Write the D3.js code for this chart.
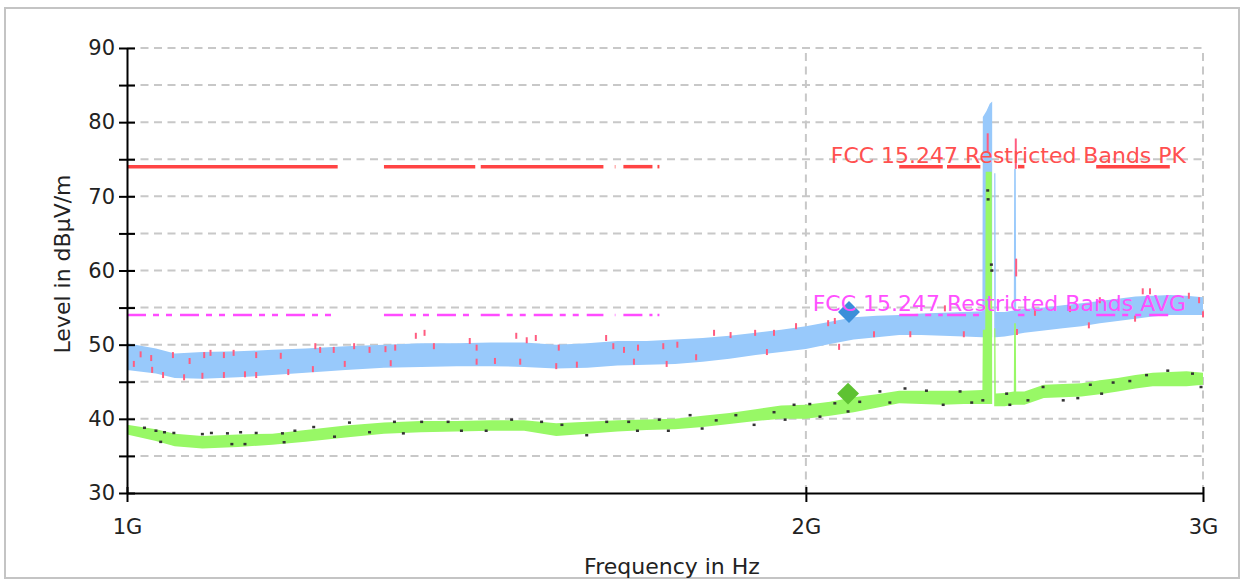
<!DOCTYPE html>
<html lang="en">
<head>
<meta charset="UTF-8">
<title>FCC 15.247 Restricted Bands scan 1-3 GHz</title>
<script src="https://d3js.org/d3.v7.min.js"></script>
<style>
  body { margin: 0; background: #fff; }
  svg text { font-family: "DejaVu Sans", sans-serif; }
  .grid line { stroke: #c8c8c8; stroke-width: 2; stroke-dasharray: 8,5.5; }
  .axis path, .axis line { stroke: #000; stroke-width: 2; }
  .axis text { font-size: 21px; fill: #222; }
</style>
</head>
<body>
<svg id="chart" width="1245" height="581"></svg>
<script>
// frequencies in GHz, levels in dBµV/m

// preview peak trace (light blue), drawn as its min/max envelope
const peakFreq = [1.00, 1.03, 1.05, 1.08, 1.12, 1.16, 1.20, 1.25, 1.30, 1.35, 1.40, 1.45, 1.50, 1.55,
  1.60, 1.65, 1.70, 1.75, 1.80, 1.85, 1.90, 1.95, 2.00, 2.05, 2.10, 2.15, 2.20, 2.25, 2.30, 2.35,
  2.395, 2.396, 2.405, 2.413, 2.419, 2.421, 2.424, 2.427, 2.428, 2.45, 2.473, 2.474, 2.478, 2.479,
  2.50, 2.55, 2.60, 2.65, 2.70, 2.75, 2.80, 2.85, 2.90, 2.95, 3.00];
const peakLow = [46.6, 46.1, 45.5, 45.4, 45.6, 45.9, 46.2, 46.6, 46.9, 47.0, 47.1, 47.1, 47.0, 46.8,
  46.9, 47.2, 47.3, 47.4, 47.7, 48.1, 48.6, 49.0, 49.4, 50.1, 50.7, 51.0, 51.3, 51.3, 51.2, 51.1,
  51.0, 51.0, 51.0, 51.0, 51.0, null, 51.0, 51.0, 51.0, 51.1, 51.3, 51.3, 51.3, 51.4,
  51.6, 51.9, 52.2, 52.5, 52.9, 53.2, 53.5, 53.8, 54.0, 54.0, 54.0];
const peakHigh = [50.2, 49.5, 48.8, 49.0, 49.1, 49.3, 49.5, 49.8, 50.0, 50.2, 50.2, 50.3, 50.3, 50.0,
  50.2, 50.5, 50.5, 50.7, 50.9, 51.2, 51.6, 52.0, 52.5, 53.1, 53.7, 53.9, 54.0, 54.2, 54.3, 54.4,
  54.5, 80.7, 81.5, 82.5, 82.8, null, 73.1, 73.1, 54.4, 54.4, 54.6, 73.7, 73.7, 54.7,
  54.8, 55.0, 55.3, 55.6, 55.9, 56.2, 56.5, 56.6, 56.7, 56.6, 56.4];

// preview average trace (green), min/max envelope
const avgFreq = [1.00, 1.03, 1.05, 1.08, 1.12, 1.16, 1.20, 1.25, 1.30, 1.35, 1.40, 1.45, 1.50, 1.55,
  1.60, 1.65, 1.70, 1.75, 1.80, 1.85, 1.90, 1.95, 2.00, 2.05, 2.10, 2.15, 2.20, 2.25, 2.30, 2.35,
  2.395, 2.396, 2.402, 2.403, 2.418, 2.419, 2.421, 2.424, 2.427, 2.428, 2.45, 2.473, 2.474, 2.478, 2.479,
  2.50, 2.55, 2.60, 2.65, 2.70, 2.75, 2.80, 2.85, 2.90, 2.95, 3.00];
const avgLow = [37.9, 37.0, 36.3, 36.0, 36.2, 36.5, 36.9, 37.5, 38.0, 38.2, 38.3, 38.4, 38.4, 37.7,
  38.0, 38.3, 38.5, 38.6, 38.9, 39.3, 39.7, 40.0, 40.0, 40.4, 40.9, 41.5, 42.1, 42.0, 41.9, 42.0,
  42.0, 42.0, 42.0, 42.0, 42.0, 42.0, null, 41.7, 41.7, 41.7, 41.7, 41.9, 41.9, 41.9, 41.9,
  41.9, 42.8, 42.9, 43.0, 43.3, 43.7, 44.1, 44.4, 44.4, 44.4, 44.6];
const avgHigh = [39.2, 38.6, 38.0, 37.7, 37.9, 38.0, 38.5, 39.1, 39.5, 39.7, 39.7, 39.8, 39.8, 39.4,
  39.6, 39.8, 39.9, 40.0, 40.4, 40.8, 41.3, 41.8, 41.9, 42.3, 42.9, 43.3, 43.8, 43.8, 43.8, 43.8,
  43.9, 52.0, 52.0, 73.3, 73.3, 43.9, null, 52.2, 52.2, 43.4, 43.5, 43.7, 52.9, 52.9, 43.7,
  43.7, 44.6, 44.7, 44.8, 45.2, 45.5, 45.9, 46.2, 46.3, 46.4, 46.2];

// second peak trace (pink): points sticking out of the blue envelope
const pinkUpper = [[1.014, 49.1], [1.025, 48.6], [1.048, 49.0], [1.066, 48.2], [1.082, 49.0], [1.089, 49.3],
  [1.104, 49.0], [1.115, 49.3], [1.141, 49.0], [1.170, 48.9], [1.212, 50.2], [1.218, 49.7], [1.235, 49.7],
  [1.261, 50.2], [1.281, 49.7], [1.302, 49.8], [1.315, 50.0], [1.343, 51.6], [1.355, 52.0], [1.368, 50.2],
  [1.419, 50.9], [1.429, 50.0], [1.488, 51.6], [1.504, 51.0], [1.518, 51.3], [1.554, 50.0], [1.631, 51.3],
  [1.643, 50.2], [1.661, 49.7], [1.685, 50.0], [1.729, 50.2], [1.754, 50.4], [1.821, 52.0], [1.852, 51.7],
  [1.899, 52.0], [1.936, 52.0], [1.980, 52.9], [2.046, 53.3], [2.060, 53.6], [2.305, 55.3], [2.527, 54.7],
  [2.619, 55.2], [2.700, 56.4], [2.821, 57.6], [2.842, 57.6], [2.957, 57.0], [2.988, 56.4]];
const pinkLower = [[1.007, 47.0], [1.026, 46.2], [1.0375, 45.5], [1.060, 45.2], [1.080, 45.4], [1.104, 45.5],
  [1.128, 45.6], [1.141, 45.5], [1.179, 45.9], [1.209, 46.3], [1.249, 47.0], [1.309, 47.1], [1.429, 47.3],
  [1.456, 47.4], [1.494, 47.3], [1.550, 46.7], [1.583, 46.9], [1.678, 47.3], [1.735, 47.0], [1.788, 47.9],
  [1.922, 48.6], [2.069, 49.3], [2.144, 51.0], [2.225, 51.0], [2.350, 51.0], [2.481, 51.3], [2.670, 52.2],
  [2.799, 53.1], [3.000, 53.7]];
// pink spike segments at the carriers [freq, from, to]
const pinkSpikes = [[2.408, 76.0, 78.5], [2.478, 73.7, 77.8], [2.479, 59.2, 61.6]];

// second average trace (dark dots)
const blackDots = [[1.018, 38.8], [1.030, 38.4], [1.035, 36.9], [1.039, 38.2], [1.049, 38.1], [1.080, 37.95],
  [1.090, 38.1], [1.108, 38.05], [1.113, 36.6], [1.123, 38.2], [1.128, 36.6], [1.141, 38.1], [1.172, 38.05],
  [1.174, 36.85], [1.187, 38.4], [1.210, 38.9], [1.236, 37.6], [1.255, 39.5], [1.281, 38.2], [1.314, 39.6],
  [1.326, 38.05], [1.351, 39.6], [1.388, 39.6], [1.407, 38.4], [1.443, 38.4], [1.481, 39.9], [1.527, 39.6],
  [1.559, 39.2], [1.599, 37.8], [1.632, 39.6], [1.669, 39.6], [1.684, 38.4], [1.722, 39.9], [1.738, 38.4],
  [1.777, 40.5], [1.799, 38.7], [1.825, 39.8], [1.862, 40.5], [1.897, 39.2], [1.936, 40.9], [1.958, 39.9],
  [1.976, 41.9], [2.008, 42.0], [2.029, 40.3], [2.060, 42.1], [2.088, 41.0], [2.113, 42.3], [2.157, 43.7],
  [2.179, 42.2], [2.213, 44.1], [2.262, 43.8], [2.301, 41.9], [2.341, 43.7], [2.369, 42.2], [2.396, 42.5],
  [2.408, 70.8], [2.409, 69.6], [2.417, 60.8], [2.418, 60.0],
  [2.455, 43.4], [2.463, 41.9], [2.509, 42.5], [2.548, 44.3], [2.601, 42.5], [2.640, 42.8], [2.674, 44.6],
  [2.705, 43.4], [2.737, 44.9], [2.784, 45.1], [2.832, 45.9], [2.894, 46.5], [2.968, 46.1], [2.994, 44.3]];

// final measurement markers
const peakMarker = [2.090, 54.4];
const avgMarker = [2.088, 43.4];

// restricted bands and limits
const restrictedBands = [[1.0, 1.24], [1.3, 1.427], [1.435, 1.6265], [1.6455, 1.6465], [1.66, 1.71],
  [1.7188, 1.7222], [2.2, 2.3], [2.31, 2.39], [2.4835, 2.5], [2.69, 2.9]];
const limitPK = 74;
const limitAVG = 54;
const limitLabels = ["FCC 15.247 Restricted Bands PK", "FCC 15.247 Restricted Bands AVG"];

const yTicks = [30, 35, 40, 45, 50, 55, 60, 65, 70, 75, 80, 85, 90];
const xTicks = [1, 2, 3];

// ---- chart ----
const svg = d3.select("#chart");
const margin = { top: 48, right: 42, bottom: 88, left: 127 };
const width = +svg.attr("width"), height = +svg.attr("height");

const x = d3.scaleLog().domain([1, 3]).range([margin.left, width - margin.right]);
const y = d3.scaleLinear().domain([30, 90]).range([height - margin.bottom, margin.top]);

// outer frame
svg.append("rect")
    .attr("x", 5).attr("y", 8).attr("width", 1234).attr("height", 570)
    .attr("fill", "#fff").attr("stroke", "#c4c4c4").attr("stroke-width", 2);

// grid
const grid = svg.append("g").attr("class", "grid");
grid.selectAll(".h").data(yTicks.filter(d => d > 30)).enter().append("line")
    .attr("x1", x(1)).attr("x2", x(3))
    .attr("y1", d => y(d)).attr("y2", d => y(d));
grid.selectAll(".v").data([2, 3]).enter().append("line")
    .attr("x1", d => x(d)).attr("x2", d => x(d))
    .attr("y1", y(30)).attr("y2", y(90));

const band = (f, lo, hi) => f.map((d, i) => ({ f: d, lo: lo[i], hi: hi[i] }));
const area = d3.area()
    .defined(d => d.hi != null)
    .x(d => x(d.f)).y0(d => y(d.lo)).y1(d => y(d.hi));

svg.append("path").datum(band(peakFreq, peakLow, peakHigh))
    .attr("d", area).attr("fill", "#98c9fb");

// pink outliers
const pink = svg.append("g").attr("stroke", "#ff5c80").attr("stroke-width", 2);
pink.selectAll(".u").data(pinkUpper).enter().append("line")
    .attr("x1", d => x(d[0])).attr("x2", d => x(d[0]))
    .attr("y1", d => y(d[1])).attr("y2", d => y(d[1]) + 6);
pink.selectAll(".l").data(pinkLower).enter().append("line")
    .attr("x1", d => x(d[0])).attr("x2", d => x(d[0]))
    .attr("y1", d => y(d[1])).attr("y2", d => y(d[1]) - 6);
pink.selectAll(".s").data(pinkSpikes).enter().append("line")
    .attr("x1", d => x(d[0])).attr("x2", d => x(d[0]))
    .attr("y1", d => y(d[1])).attr("y2", d => y(d[2]));

svg.append("path").datum(band(avgFreq, avgLow, avgHigh))
    .attr("d", area).attr("fill", "#98f866");

svg.append("g").selectAll("rect").data(blackDots).enter().append("rect")
    .attr("x", d => x(d[0]) - 1.5).attr("y", d => y(d[1]) - 1.2)
    .attr("width", 3).attr("height", 2.5).attr("fill", "#333");

// limit lines
svg.append("g").selectAll("line").data(restrictedBands).enter().append("line")
    .attr("x1", d => x(d[0])).attr("x2", d => x(d[1]))
    .attr("y1", y(limitPK)).attr("y2", y(limitPK))
    .attr("stroke", "#ff4444").attr("stroke-width", 3.5);
svg.append("g").selectAll("line").data(restrictedBands).enter().append("line")
    .attr("x1", d => x(d[0])).attr("x2", d => x(d[1]))
    .attr("y1", y(limitAVG)).attr("y2", y(limitAVG))
    .attr("stroke", "#ff4cff").attr("stroke-width", 2.5)
    .attr("stroke-dasharray", "19,7,6,7,6,8");

// markers
const diamond = d3.symbol(d3.symbolSquare, 240);
svg.append("path").attr("d", diamond)
    .attr("transform", `translate(${x(peakMarker[0])},${y(peakMarker[1])}) rotate(45)`)
    .attr("fill", "#3b8fd9");
svg.append("path").attr("d", diamond)
    .attr("transform", `translate(${x(avgMarker[0])},${y(avgMarker[1])}) rotate(45)`)
    .attr("fill", "#5ec232");

// limit labels
svg.append("text").attr("x", 1186).attr("y", 163)
    .attr("text-anchor", "end").attr("font-size", 22).attr("fill", "#ff5050")
    .text(limitLabels[0]);
svg.append("text").attr("x", 1186).attr("y", 311)
    .attr("text-anchor", "end").attr("font-size", 22).attr("fill", "#ff50ff")
    .text(limitLabels[1]);

// axes
const yAxis = svg.append("g").attr("class", "axis")
    .attr("transform", `translate(${x(1)},0)`)
    .call(d3.axisLeft(y).tickValues(yTicks).tickSize(8).tickSizeOuter(0)
        .tickFormat(d => d % 10 === 0 ? d : ""));
yAxis.selectAll(".tick line").attr("x1", 8);
yAxis.selectAll(".tick text").attr("x", -12);

const xAxis = svg.append("g").attr("class", "axis")
    .attr("transform", `translate(0,${y(30)})`)
    .call(d3.axisBottom(x).tickValues(xTicks).tickSize(9).tickSizeOuter(0)
        .tickFormat(d => d + "G"));
xAxis.selectAll(".tick line").attr("y1", -6);
xAxis.selectAll(".tick text").attr("y", 26);

// axis titles
svg.append("text")
    .attr("transform", `translate(70,264) rotate(-90)`)
    .attr("text-anchor", "middle").attr("font-size", 22).attr("fill", "#222")
    .text("Level in dBµV/m");
svg.append("text")
    .attr("x", 672).attr("y", 574)
    .attr("text-anchor", "middle").attr("font-size", 22).attr("fill", "#222")
    .text("Frequency in Hz");
</script>
</body>
</html>
